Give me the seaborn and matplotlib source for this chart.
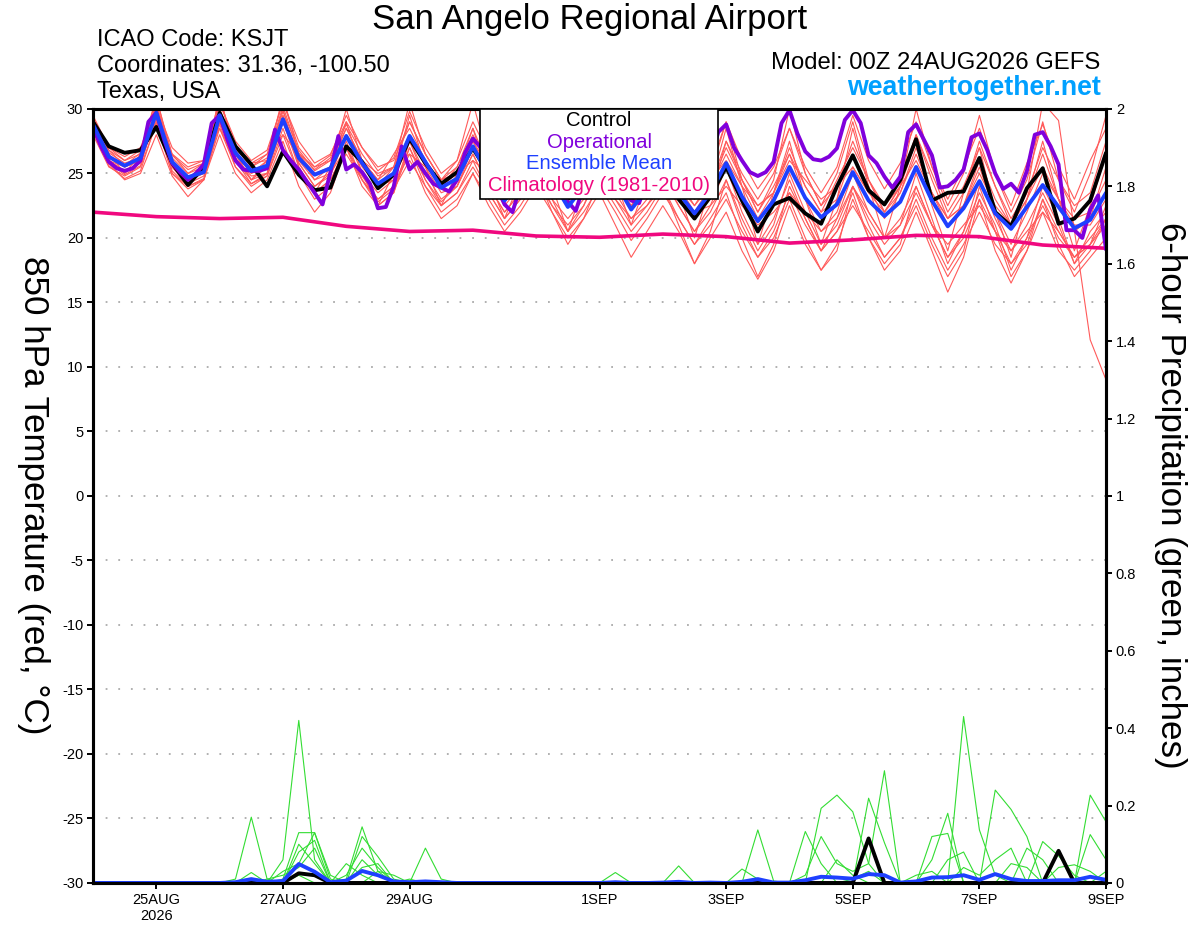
import pandas as pd
import seaborn as sns
import matplotlib
matplotlib.use("Agg")
import matplotlib.pyplot as plt
from matplotlib.patches import Rectangle

# ---- data (00Z 24AUG2026, San Angelo) ----
start = pd.Timestamp("2026-08-24 00:00")
steps_6h = pd.date_range(start, periods=65, freq="6h")
steps_3h = pd.date_range(start, periods=129, freq="3h")
steps_day = pd.date_range(start, periods=17, freq="D")

# 850 hPa temperature, control run (6-hourly)
control_t = [29.0, 27.1, 26.6, 26.8, 28.6, 25.8, 24.1, 25.5, 29.7, 27.1, 25.7, 24.0,
             26.7, 24.9, 23.7, 23.9, 27.1, 25.9, 23.85, 24.9, 27.7, 25.8, 24.2, 25.1,
             26.95, 25.0, 23.3, 24.5, 26.2, 24.8, 23.0, 24.2, 26.0, 24.0, 23.0, 24.0,
             25.8, 23.0, 21.5, 23.2, 25.5, 22.9, 20.5, 22.6, 23.1, 21.9, 21.1, 24.0,
             26.4, 23.7, 22.6, 24.5, 27.65, 22.9, 23.5, 23.6, 26.2, 22.0, 20.9, 23.85,
             25.4, 21.1, 21.5, 22.9, 26.6]

# ensemble mean (6-hourly)
mean_t = [28.8, 26.3, 25.6, 26.2, 29.7, 25.9, 24.7, 25.1, 29.5, 26.6, 25.2, 25.6,
          29.2, 26.2, 24.9, 25.4, 27.9, 25.8, 24.2, 25.0, 27.9, 25.9, 23.9, 24.6,
          27.1, 24.8, 22.9, 24.5, 26.0, 24.5, 22.4, 24.0, 25.8, 24.3, 22.2, 23.8,
          25.5, 23.5, 21.9, 23.5, 25.8, 23.2, 21.3, 22.9, 25.5, 23.1, 21.6, 22.6,
          25.1, 22.9, 21.7, 22.8, 25.5, 22.9, 20.9, 22.3, 24.4, 21.9, 20.7, 22.4,
          24.1, 22.4, 20.75, 21.4, 23.5]

# operational GFS (3-hourly)
oper_t = [28.6, 27.1, 25.9, 25.4, 25.2, 25.4, 26.0, 29.0,
          29.7, 27.6, 25.8, 25.1, 24.5, 25.0, 25.7, 28.9,
          29.5, 27.6, 26.0, 25.3, 25.2, 25.2, 25.4, 28.4,
          26.8, 26.0, 25.3, 24.4, 23.5, 22.6, 25.1, 27.9,
          25.3, 25.7, 25.1, 24.2, 22.3, 22.4, 24.0, 27.1,
          25.3, 25.9, 25.0, 24.2, 23.9, 23.6, 24.5, 26.6,
          27.7, 27.0, 25.5, 24.0, 22.6, 22.0, 24.0, 26.5,
          27.5, 26.5, 25.0, 23.5, 22.8, 22.1, 24.0, 26.5,
          27.5, 26.5, 25.0, 23.5, 22.9, 22.7, 24.5, 26.5,
          27.5, 26.5, 25.5, 24.5, 24.0, 24.5, 26.0, 28.2,
          28.8, 27.0, 26.0, 25.1, 24.8, 25.1, 25.9, 28.9,
          29.9, 28.1, 26.7, 26.1, 26.0, 26.3, 26.95, 29.15,
          29.9, 28.9, 26.4, 25.8, 24.75, 23.9, 24.75, 28.2,
          28.8, 27.6, 26.4, 23.9, 24.0, 24.5, 25.3, 27.8,
          28.1, 26.8, 25.0, 23.8, 24.2, 23.5, 25.2, 28.0,
          28.2, 27.1, 25.7, 20.6, 20.6, 20.0, 22.2, 23.3,
          19.1]

# 1981-2010 climatology (daily)
clim_t = [22.0, 21.65, 21.5, 21.6, 20.9, 20.5, 20.6, 20.15, 20.05, 20.3,
          20.1, 19.6, 19.85, 20.2, 20.1, 19.45, 19.2]

# ensemble members (6-hourly)
mem_a = [29.5, 27.0, 26.0, 26.8, 30.8, 26.5, 25.0, 25.8, 30.5, 27.2, 25.8, 26.5,
         30.6, 27.0, 25.5, 26.4, 29.5, 27.0, 25.2, 26.2, 29.8, 27.0, 25.0, 26.0,
         29.0, 26.5, 24.5, 26.0, 28.5, 26.0, 24.2, 25.8, 28.8, 26.2, 24.0, 26.0,
         28.5, 25.8, 24.0, 25.5, 29.0, 26.0, 23.8, 25.5, 28.5, 25.5, 23.5, 25.5,
         29.5, 26.0, 23.8, 25.8, 29.0, 25.5, 23.0, 25.5, 28.5, 25.0, 22.5, 25.8,
         28.8, 25.5, 23.0, 26.0, 28.5]
mem_b = [28.0, 25.5, 24.8, 25.5, 28.8, 25.0, 23.8, 24.5, 28.5, 25.5, 24.2, 24.8,
         28.0, 25.0, 23.5, 24.5, 26.5, 24.5, 22.8, 23.8, 26.0, 24.0, 22.0, 23.0,
         25.0, 23.0, 21.0, 22.5, 24.5, 22.5, 20.5, 22.0, 24.0, 22.0, 19.8, 21.5,
         23.5, 21.5, 19.5, 21.0, 23.0, 20.5, 18.5, 20.5, 23.5, 21.0, 19.0, 20.5,
         22.5, 20.5, 18.5, 20.0, 23.0, 20.0, 17.5, 19.5, 22.0, 19.5, 18.0, 20.0,
         22.5, 20.0, 18.5, 19.5, 21.0]
mem_c = [29.2, 26.5, 25.0, 26.5, 30.5, 25.5, 24.0, 25.5, 31.0, 26.5, 24.5, 26.0,
         30.0, 25.5, 23.5, 25.5, 29.0, 25.0, 22.5, 25.0, 29.5, 25.5, 22.5, 25.0,
         28.5, 24.5, 21.5, 24.5, 28.0, 24.0, 20.5, 24.0, 28.5, 24.5, 21.0, 24.5,
         27.5, 23.5, 20.0, 24.0, 28.5, 24.0, 19.5, 23.5, 27.5, 23.0, 19.5, 23.0,
         28.5, 24.0, 20.0, 24.0, 27.5, 22.5, 19.0, 23.5, 27.0, 22.0, 18.5, 23.0,
         27.5, 23.0, 19.0, 22.5, 26.5]
mem_d = [28.5, 26.0, 25.2, 25.8, 29.5, 25.5, 24.2, 24.8, 29.0, 26.0, 24.5, 25.0,
         29.0, 25.8, 24.0, 25.0, 27.0, 24.8, 23.0, 24.0, 27.0, 24.5, 22.5, 23.5,
         26.0, 23.5, 21.5, 23.0, 25.0, 22.0, 19.5, 21.5, 23.5, 21.0, 18.5, 20.5,
         22.5, 20.5, 18.0, 20.0, 22.0, 19.0, 16.8, 19.0, 22.5, 19.5, 17.5, 19.5,
         23.0, 20.0, 17.5, 19.0, 22.0, 19.0, 15.8, 18.5, 23.0, 19.0, 16.5, 19.0,
         22.0, 19.0, 17.5, 19.0, 21.5]
mem_e = [29.0, 26.2, 25.5, 26.0, 30.0, 26.0, 24.5, 25.0, 29.8, 26.8, 25.0, 25.5,
         29.5, 26.5, 25.0, 25.5, 28.5, 26.0, 24.5, 25.5, 28.0, 26.0, 24.0, 25.0,
         27.5, 25.0, 23.0, 25.0, 27.0, 25.0, 23.0, 24.5, 26.5, 24.5, 22.5, 24.5,
         26.5, 24.0, 22.0, 24.0, 27.0, 24.5, 22.0, 24.0, 26.5, 24.0, 22.0, 24.5,
         27.0, 24.5, 22.5, 24.5, 28.0, 25.0, 22.0, 24.0, 27.0, 24.0, 21.0, 23.5,
         30.5, 29.1, 20.6, 12.1, 9.0]
mem_f = [28.6, 26.8, 26.0, 26.5, 29.0, 26.5, 25.5, 26.0, 28.5, 26.0, 25.5, 26.5,
         28.0, 26.5, 25.5, 26.0, 27.0, 26.0, 25.0, 25.5, 26.5, 25.5, 24.5, 25.0,
         26.0, 25.0, 24.0, 24.5, 25.5, 24.5, 23.5, 24.0, 25.0, 24.0, 22.5, 23.5,
         24.5, 23.5, 22.0, 22.5, 24.0, 22.5, 21.0, 22.0, 23.5, 22.0, 20.5, 21.5,
         24.0, 22.0, 20.0, 21.0, 23.5, 21.0, 19.5, 21.0, 22.5, 20.5, 19.0, 20.5,
         22.0, 20.5, 18.5, 20.0, 21.5]
mem_g = [29.0, 26.0, 25.0, 26.0, 31.0, 26.0, 24.5, 25.5, 31.0, 26.5, 25.0, 26.0,
         31.0, 26.5, 24.5, 25.5, 30.0, 26.0, 24.0, 25.5, 30.5, 26.5, 24.5, 26.0,
         30.5, 26.0, 24.0, 26.0, 30.0, 25.5, 23.5, 25.5, 29.5, 25.0, 23.0, 25.0,
         30.0, 25.5, 23.0, 25.0, 29.0, 24.5, 22.0, 24.5, 30.0, 25.0, 22.5, 25.0,
         29.0, 24.5, 22.0, 24.0, 30.0, 25.5, 22.5, 25.0, 29.5, 25.0, 22.0, 24.5,
         29.0, 24.5, 22.0, 25.0, 29.5]
mem_h = [28.2, 25.8, 24.5, 25.0, 28.0, 24.8, 23.2, 24.5, 28.0, 25.0, 23.5, 24.5,
         27.5, 24.0, 22.0, 23.5, 27.0, 24.0, 22.5, 23.5, 27.5, 24.5, 22.8, 24.0,
         26.5, 24.0, 22.0, 23.5, 25.5, 23.0, 21.5, 23.0, 26.0, 23.5, 21.5, 23.0,
         25.0, 22.5, 20.5, 22.5, 25.5, 22.0, 19.5, 21.5, 24.5, 21.5, 19.0, 21.5,
         25.0, 22.0, 20.0, 21.5, 24.0, 21.0, 18.5, 20.5, 24.5, 21.5, 19.0, 21.0,
         23.5, 21.0, 18.0, 20.5, 22.0]
mem_i = [28.9, 26.6, 25.8, 26.2, 29.8, 26.2, 25.0, 25.5, 30.0, 27.0, 25.8, 26.0,
         29.8, 26.8, 25.2, 26.0, 28.5, 26.0, 24.5, 26.5, 28.5, 26.0, 24.0, 25.5,
         28.0, 25.5, 23.5, 25.0, 27.0, 24.5, 22.5, 24.5, 27.5, 25.0, 23.0, 24.5,
         26.0, 24.0, 22.5, 24.0, 26.5, 24.0, 21.5, 23.5, 26.0, 24.5, 23.0, 24.0,
         25.5, 23.5, 22.0, 23.5, 26.5, 23.5, 21.0, 22.5, 25.0, 22.5, 21.0, 23.0,
         25.5, 23.0, 21.5, 22.0, 24.5]
mem_j = [28.4, 26.0, 25.5, 26.0, 29.2, 25.8, 24.8, 25.2, 29.0, 26.2, 24.8, 25.0,
         29.0, 26.0, 24.5, 25.0, 28.0, 25.5, 24.0, 24.5, 28.0, 25.5, 23.5, 24.0,
         27.0, 24.5, 22.5, 24.0, 26.5, 25.0, 23.5, 24.5, 26.0, 24.5, 23.0, 24.0,
         26.0, 23.5, 21.5, 23.0, 27.5, 24.5, 22.5, 23.5, 26.5, 23.0, 20.5, 22.0,
         25.5, 23.5, 22.5, 24.0, 26.0, 23.5, 21.5, 22.5, 25.5, 22.0, 19.5, 22.0,
         25.0, 23.0, 21.0, 21.0, 23.0]
mem_k = [28.8, 26.4, 25.5, 26.3, 29.5, 25.5, 24.5, 25.0, 29.5, 26.5, 24.5, 25.5,
         29.0, 25.5, 23.5, 24.5, 27.0, 24.5, 23.0, 24.0, 26.5, 23.5, 21.5, 22.5,
         25.0, 22.5, 20.5, 22.0, 24.0, 22.0, 20.0, 21.5, 24.5, 22.5, 20.5, 22.0,
         24.0, 21.5, 19.5, 21.5, 23.5, 20.0, 17.0, 19.5, 24.0, 21.5, 19.0, 20.5,
         23.5, 20.0, 18.0, 19.5, 24.0, 21.0, 18.5, 20.0, 23.0, 20.5, 18.0, 19.5,
         23.0, 20.5, 18.5, 19.5, 21.5]
mem_l = [29.3, 27.0, 26.3, 27.0, 30.2, 27.0, 25.8, 26.0, 30.5, 27.5, 26.0, 26.8,
         30.5, 27.5, 25.8, 26.5, 29.0, 27.0, 25.5, 26.0, 29.0, 26.5, 24.5, 25.5,
         28.5, 25.5, 23.5, 25.0, 27.5, 25.5, 23.5, 25.0, 27.0, 25.0, 23.0, 24.5,
         27.0, 25.0, 23.0, 24.0, 27.5, 25.0, 23.0, 25.0, 28.5, 25.0, 22.5, 24.0,
         27.5, 24.5, 22.0, 24.0, 28.0, 24.5, 21.5, 23.5, 27.5, 24.0, 21.5, 23.5,
         27.0, 24.5, 22.5, 23.5, 27.5]
mem_m = [28.7, 25.8, 24.9, 25.6, 29.6, 25.2, 24.0, 24.6, 29.2, 26.0, 24.2, 25.0,
         29.5, 25.8, 24.0, 24.8, 28.0, 25.0, 23.5, 24.5, 27.5, 25.0, 23.0, 24.0,
         26.5, 24.0, 22.0, 23.5, 25.5, 23.0, 20.5, 22.5, 25.0, 23.0, 21.0, 22.5,
         24.5, 22.5, 20.5, 22.0, 24.5, 21.5, 19.0, 21.0, 25.0, 22.0, 19.5, 21.0,
         24.0, 21.5, 19.5, 21.0, 25.0, 21.5, 18.0, 20.5, 23.5, 21.0, 17.5, 20.0,
         24.0, 21.5, 18.0, 19.5, 22.5]
mem_n = [29.1, 26.8, 25.6, 26.6, 30.3, 26.4, 25.3, 25.8, 29.6, 27.0, 25.5, 26.2,
         30.2, 26.6, 25.3, 26.2, 28.8, 26.5, 24.8, 25.5, 29.0, 26.5, 24.5, 25.0,
         27.5, 25.5, 23.5, 25.5, 27.5, 25.0, 23.0, 24.5, 27.0, 25.0, 23.0, 24.0,
         27.5, 24.5, 22.5, 24.5, 26.0, 24.0, 22.5, 23.5, 27.0, 24.0, 22.0, 23.0,
         26.5, 24.0, 21.5, 23.5, 27.0, 23.5, 21.5, 22.5, 26.0, 23.0, 21.0, 23.0,
         26.5, 23.0, 20.5, 21.5, 25.5]
mem_o = [28.3, 25.6, 24.6, 25.2, 29.0, 25.0, 24.0, 24.5, 28.8, 25.5, 24.0, 24.8,
         28.5, 25.0, 23.0, 24.0, 27.5, 24.5, 22.5, 23.5, 27.0, 24.0, 22.5, 23.5,
         25.5, 23.5, 21.5, 23.0, 25.0, 22.5, 21.0, 22.5, 25.5, 23.0, 21.5, 22.5,
         24.0, 21.0, 18.0, 20.5, 24.5, 21.0, 18.5, 20.0, 23.0, 20.0, 17.5, 19.0,
         24.0, 21.0, 18.5, 20.0, 22.5, 19.5, 17.0, 19.0, 24.0, 20.5, 17.0, 19.0,
         23.0, 19.5, 17.0, 18.5, 20.0]

# 6-hour precipitation (inches)
control_p = [0, 0, 0, 0, 0, 0, 0, 0, 0, 0, 0, 0, 0,
             0.025, 0.02, 0, 0, 0, 0, 0, 0, 0, 0, 0, 0, 0,
             0, 0, 0, 0, 0, 0, 0, 0, 0, 0, 0, 0, 0,
             0, 0, 0, 0, 0, 0, 0, 0, 0, 0, 0.115, 0, 0,
             0, 0, 0, 0, 0, 0, 0, 0, 0, 0.083, 0, 0, 0]
mean_p = [0, 0, 0, 0, 0, 0, 0, 0, 0, 0.002, 0.01, 0.003, 0.005,
          0.049, 0.029, 0.002, 0.006, 0.031, 0.02, 0.004, 0.002, 0.004, 0.002, 0, 0, 0,
          0, 0, 0, 0, 0, 0, 0, 0.002, 0, 0, 0.001, 0.003, 0,
          0.001, 0, 0.003, 0.01, 0.001, 0.001, 0.007, 0.016, 0.014, 0.011, 0.023, 0.02, 0.001,
          0.004, 0.014, 0.015, 0.02, 0.008, 0.023, 0.01, 0.005, 0.005, 0.007, 0.007, 0.016, 0.008]
pmem_1 = [0, 0, 0, 0, 0, 0, 0, 0, 0, 0.01, 0.17, 0.01, 0,
          0.02, 0, 0, 0.01, 0.145, 0.03, 0, 0.005, 0, 0, 0, 0, 0,
          0, 0, 0, 0, 0, 0, 0, 0, 0, 0, 0, 0, 0,
          0, 0, 0, 0.137, 0.005, 0, 0, 0, 0.06, 0.02, 0, 0, 0,
          0, 0, 0, 0.43, 0.137, 0.02, 0, 0, 0, 0, 0, 0, 0]
pmem_2 = [0, 0, 0, 0, 0, 0, 0, 0, 0, 0, 0, 0, 0.06,
          0.42, 0.06, 0, 0, 0.12, 0.068, 0.01, 0, 0, 0, 0, 0, 0,
          0, 0, 0, 0, 0, 0, 0, 0, 0, 0, 0, 0, 0,
          0, 0, 0, 0, 0, 0, 0.133, 0.05, 0, 0, 0, 0, 0,
          0, 0.06, 0.18, 0, 0, 0.24, 0.19, 0.12, 0, 0, 0, 0, 0]
pmem_3 = [0, 0, 0, 0, 0, 0, 0, 0, 0, 0, 0.027, 0, 0.01,
          0.13, 0.13, 0.02, 0, 0.04, 0.05, 0, 0, 0.09, 0.01, 0, 0, 0,
          0, 0, 0, 0, 0, 0, 0, 0, 0, 0, 0, 0, 0,
          0, 0, 0, 0, 0, 0, 0, 0.193, 0.227, 0.184, 0.05, 0, 0,
          0, 0, 0, 0, 0, 0, 0, 0, 0, 0, 0, 0.227, 0.158]
pmem_4 = [0, 0, 0, 0, 0, 0, 0, 0, 0, 0, 0, 0, 0,
          0.08, 0.11, 0, 0.05, 0.02, 0, 0, 0, 0, 0, 0, 0, 0,
          0, 0, 0, 0, 0, 0, 0, 0, 0, 0, 0, 0.044, 0,
          0, 0, 0.036, 0.01, 0, 0, 0, 0, 0, 0, 0.219, 0.104, 0,
          0, 0.12, 0.128, 0, 0, 0, 0, 0, 0.107, 0.07, 0.02, 0, 0]
pmem_5 = [0, 0, 0, 0, 0, 0, 0, 0, 0, 0, 0, 0, 0.03,
          0.05, 0.13, 0.01, 0, 0, 0.03, 0.02, 0, 0, 0, 0, 0, 0,
          0, 0, 0, 0, 0, 0, 0, 0.027, 0, 0, 0, 0, 0,
          0, 0, 0, 0, 0, 0, 0.02, 0.12, 0.05, 0.03, 0.05, 0.29, 0,
          0, 0, 0, 0, 0, 0, 0.05, 0.04, 0, 0, 0, 0.125, 0.06]
pmem_6 = [0, 0, 0, 0, 0, 0, 0, 0, 0, 0, 0, 0.01, 0.02,
          0.04, 0.09, 0, 0, 0.06, 0.02, 0, 0, 0, 0, 0, 0, 0,
          0, 0, 0, 0, 0, 0, 0, 0, 0, 0, 0, 0, 0,
          0, 0, 0, 0, 0, 0, 0, 0, 0, 0, 0, 0, 0,
          0.02, 0.03, 0, 0.04, 0.02, 0.06, 0.09, 0, 0, 0.04, 0.047, 0.03, 0]
pmem_7 = [0, 0, 0, 0, 0, 0, 0, 0, 0, 0, 0, 0, 0,
          0.10, 0.05, 0, 0.02, 0.09, 0.04, 0, 0.01, 0, 0, 0, 0, 0,
          0, 0, 0, 0, 0, 0, 0, 0, 0, 0, 0, 0, 0,
          0, 0, 0, 0, 0, 0, 0, 0, 0, 0.01, 0.03, 0, 0,
          0, 0, 0.06, 0.08, 0, 0, 0, 0.09, 0.06, 0, 0, 0, 0.03]

temp_members = {"a": mem_a, "b": mem_b, "c": mem_c, "d": mem_d, "e": mem_e,
                "f": mem_f, "g": mem_g, "h": mem_h, "i": mem_i, "j": mem_j,
                "k": mem_k, "l": mem_l, "m": mem_m, "n": mem_n, "o": mem_o}
precip_members = {"1": pmem_1, "2": pmem_2, "3": pmem_3, "4": pmem_4,
                  "5": pmem_5, "6": pmem_6, "7": pmem_7}

tick_dates = ["2026-08-25", "2026-08-27", "2026-08-29", "2026-09-01",
              "2026-09-03", "2026-09-05", "2026-09-07", "2026-09-09"]
tick_labels = ["25AUG\n2026", "27AUG", "29AUG", "1SEP", "3SEP", "5SEP", "7SEP", "9SEP"]

# ---- long tables for seaborn ----
df_tm = pd.concat([pd.DataFrame({"time": steps_6h, "t850": v, "member": k})
                   for k, v in temp_members.items()], ignore_index=True)
df_pm = pd.concat([pd.DataFrame({"time": steps_6h, "precip": v, "member": k})
                   for k, v in precip_members.items()], ignore_index=True)

RED = "#ff5a5a"
GREEN = "#33dd33"
PURPLE = "#8000dc"
BLUE = "#1e40ff"
PINK = "#f0087f"

sns.set_style("ticks")
plt.rcParams["font.family"] = ["Liberation Sans", "DejaVu Sans"]
plt.rcParams["text.color"] = "black"
plt.rcParams["axes.labelcolor"] = "black"
plt.rcParams["xtick.color"] = "black"
plt.rcParams["ytick.color"] = "black"
plt.rcParams["axes.unicode_minus"] = False

fig = plt.figure(figsize=(12, 9.27), dpi=100)
ax = fig.add_axes([0.0775, 0.0475, 0.8442, 0.835])

sns.lineplot(data=df_tm, x="time", y="t850", units="member", estimator=None,
             color=RED, lw=0.8, ax=ax, legend=False)
sns.lineplot(x=steps_day, y=clim_t, color=PINK, lw=2.6, ax=ax)
sns.lineplot(x=steps_6h, y=control_t, color="black", lw=2.8, ax=ax)
sns.lineplot(x=steps_3h, y=oper_t, color=PURPLE, lw=2.8, ax=ax)
sns.lineplot(x=steps_6h, y=mean_t, color=BLUE, lw=2.8, ax=ax)

ax.set_xlim(start, start + pd.Timedelta(days=16))
ax.set_ylim(-30, 30)
ax.set_yticks(range(-30, 31, 5))
ax.set_xticks(pd.to_datetime(tick_dates))
ax.set_xticklabels(tick_labels)
ax.set_xlabel("")
ax.set_ylabel("")
ax.yaxis.grid(True, color="#aaaaaa", lw=1.3, linestyle=(0, (1, 6)))
ax.xaxis.grid(False)

ax2 = ax.twinx()
sns.lineplot(data=df_pm, x="time", y="precip", units="member", estimator=None,
             color=GREEN, lw=0.8, ax=ax2, legend=False)
sns.lineplot(x=steps_6h, y=control_p, color="black", lw=2.8, ax=ax2)
sns.lineplot(x=steps_6h, y=mean_p, color=BLUE, lw=2.8, ax=ax2)
ax2.set_ylim(0, 2)
ax2.set_yticks([0, 0.2, 0.4, 0.6, 0.8, 1, 1.2, 1.4, 1.6, 1.8, 2])
ax2.set_yticklabels(["0", "0.2", "0.4", "0.6", "0.8", "1", "1.2", "1.4", "1.6", "1.8", "2"])
ax2.set_ylabel("")
ax2.set_xlim(start, start + pd.Timedelta(days=16))

for a in (ax, ax2):
    for s in a.spines.values():
        s.set_linewidth(2.2)
        s.set_color("black")
    a.tick_params(direction="out", length=4, width=1.4, labelsize=10.5, pad=3)

# legend box (text only, centred on top)
ax2.add_patch(Rectangle((0.382, 0.8837), 0.235, 0.1163, transform=ax2.transAxes,
                        facecolor="white", edgecolor="black", lw=1.2, zorder=10))
legend_rows = [("Control", "black", 0.9845), ("Operational", PURPLE, 0.957),
               ("Ensemble Mean", BLUE, 0.930), ("Climatology (1981-2010)", PINK, 0.9005)]
for txt, col, yy in legend_rows:
    ax2.text(0.4995, yy, txt, color=col, fontsize=14.6, ha="center", va="center",
             transform=ax2.transAxes, zorder=11)

# header texts
fig.text(0.4917, 0.979, "San Angelo Regional Airport", fontsize=25, ha="center", va="center")
fig.text(0.0808, 0.9569, "ICAO Code: KSJT", fontsize=17, va="center")
fig.text(0.0808, 0.9288, "Coordinates: 31.36, -100.50", fontsize=17, va="center")
fig.text(0.0808, 0.9008, "Texas, USA", fontsize=17, va="center")
fig.text(0.9167, 0.9320, "Model: 00Z 24AUG2026 GEFS", fontsize=17.2, ha="right", va="center")
fig.text(0.9175, 0.9050, "weathertogether.net", fontsize=19.3, fontweight="bold",
         color="#00a0ff", ha="right", va="center")

fig.text(0.028, 0.466, "850 hPa Temperature (red, \u00b0C)", fontsize=25.2,
         rotation=-90, ha="center", va="center")
fig.text(0.975, 0.466, "6-hour Precipitation (green, inches)", fontsize=25.2,
         rotation=-90, ha="center", va="center")

fig.savefig("out.png", dpi=100)
